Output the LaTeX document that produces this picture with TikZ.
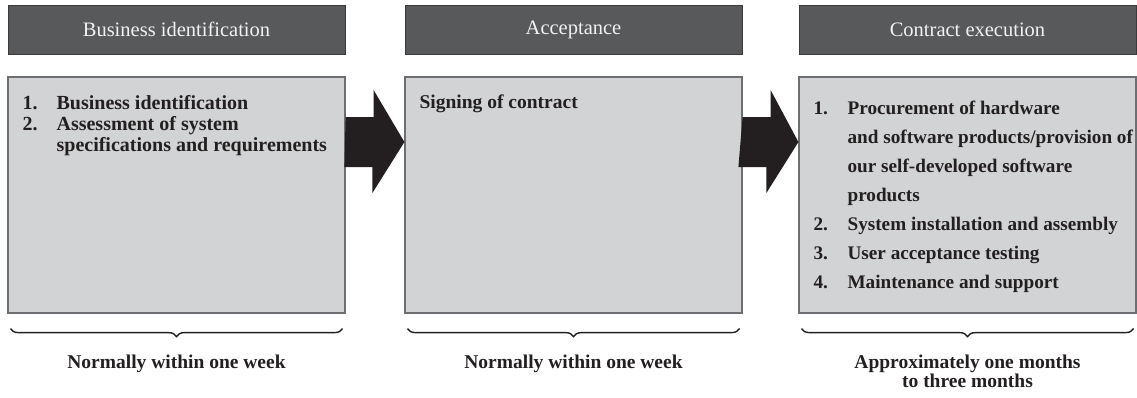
\documentclass[tikz,border=0pt]{standalone}
\usepackage{fontspec}
\setmainfont{Liberation Serif}
\usetikzlibrary{decorations.pathreplacing}
\definecolor{headgray}{HTML}{58595B}
\definecolor{headline}{HTML}{3A3A3C}
\definecolor{boxgray}{HTML}{D1D3D4}
\definecolor{boxline}{HTML}{6D6E71}
\definecolor{inkblack}{HTML}{231F20}

\begin{document}
\begin{tikzpicture}[x=1pt,y=-1pt,
	head/.style={draw=headline,line width=1pt,fill=headgray,text=white!95!black,
		minimum width=337pt,minimum height=49pt,inner sep=0pt,
		font=\fontsize{20.5}{24}\selectfont},
	panel/.style={draw=boxline,line width=1.2pt,fill=boxgray,
		minimum width=337pt,minimum height=236pt,inner sep=0pt},
	steps/.style={inner sep=0pt,anchor=base west,text=inkblack},
	span/.style={draw=inkblack,line width=1.4pt,decorate,
		decoration={brace,mirror,amplitude=8pt}},
	note/.style={inner sep=0pt,anchor=base,text=inkblack,align=center,
		font=\bfseries\fontsize{19.5}{19}\selectfont}]
	\useasboundingbox (0,0) rectangle (1137,397);
	% en-tetes
	\node[head] (h1) at (176.5,29.5) {Business identification};
	\node[head] (h2) at (573.5,29.5) {Acceptance};
	\node[head] (h3) at (967.5,29.5) {Contract execution};
	% cadres
	\node[panel] (p1) at (176.5,195) {};
	\node[panel] (p2) at (573.5,195) {};
	\node[panel] (p3) at (967.5,195) {};
	% textes
	\node[steps,font=\bfseries\fontsize{20}{21}\selectfont] (s1)
		at ([xshift=15pt,yshift=-33pt]p1.north west)
		{\begin{tabular}[t]{@{}p{34pt}@{}l@{}}
		1. & Business identification\\
		2. & Assessment of system\\
		   & specifications and requirements
		\end{tabular}};
	\node[steps,font=\bfseries\fontsize{19.5}{21}\selectfont] (s2)
		at ([xshift=15pt,yshift=-32pt]p2.north west) {Signing of contract};
	\node[steps,font=\bfseries\fontsize{19.2}{29}\selectfont] (s3)
		at ([xshift=15pt,yshift=-38pt]p3.north west)
		{\begin{tabular}[t]{@{}p{34pt}@{}l@{}}
		1. & Procurement of hardware\\
		   & and software products/provision of\\
		   & our self-developed software\\
		   & products\\
		2. & System installation and assembly\\
		3. & User acceptance testing\\
		4. & Maintenance and support
		\end{tabular}};
	% fleches
	\coordinate (a1) at ([yshift=53pt]p1.east);
	\coordinate (a2) at ([yshift=53pt]p2.east);
	\fill[inkblack] (a1) ++(0,-25) -- ++(28,0) -- ++(0,-27) -- (p2.west |- a1)
		-- ++(-32,51) -- ++(0,-26) -- ++(-28,0) -- cycle;
	\fill[inkblack] (a2) ++(0,-25) -- ++(28,0) -- ++(0,-27) -- (p3.west |- a2)
		-- ++(-32,51) -- ++(0,-26) -- ++(-28,0) -- cycle;
	% accolades
	\draw[span] ([xshift=3pt,yshift=-15pt]p1.south west) -- ([xshift=-3pt,yshift=-15pt]p1.south east);
	\draw[span] ([xshift=3pt,yshift=-15pt]p2.south west) -- ([xshift=-3pt,yshift=-15pt]p2.south east);
	\draw[span] ([xshift=3pt,yshift=-15pt]p3.south west) -- ([xshift=-3pt,yshift=-15pt]p3.south east);
	\node[note] (n1) at ([yshift=-55pt]p1.south) {Normally within one week};
	\node[note] (n2) at ([yshift=-55pt]p2.south) {Normally within one week};
	\node[note] (n3) at ([yshift=-74pt]p3.south) {Approximately one months\\to three months};
\end{tikzpicture}
\end{document}
